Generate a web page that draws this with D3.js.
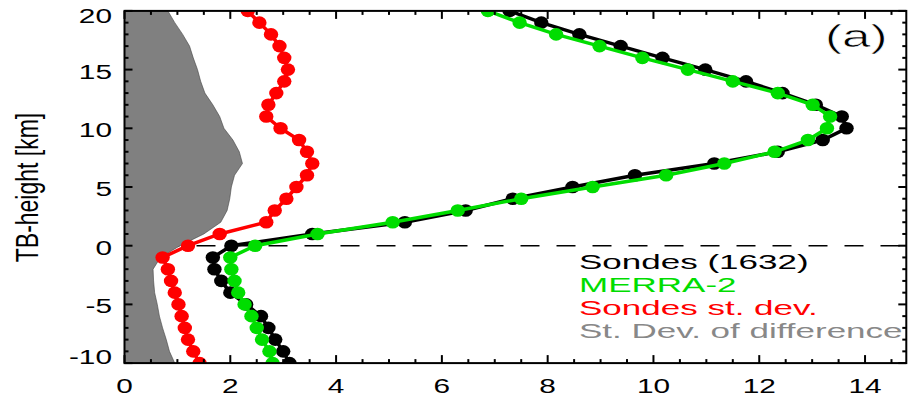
<!DOCTYPE html>
<html>
<head>
<meta charset="utf-8">
<script src="https://cdn.jsdelivr.net/npm/d3@7"></script>
<style>
  body { margin: 0; background: #fff; }
  text { font-family: "Liberation Sans", Arial, Helvetica, sans-serif; }
</style>
</head>
<body>
<script>
// heights of the profile levels (km, relative to tropopause)
var heights = [-10, -9, -8, -7, -6, -5, -4, -3, -2, -1, 0, 1, 2, 3, 4, 5, 6, 7, 8, 9, 10,
               11, 12, 13, 14, 15, 16, 17, 18, 19, 20];

var sondes = [3.12, 3.00, 2.85, 2.72, 2.58, 2.30, 2.00, 1.83, 1.70, 1.67, 2.02,
              3.55, 5.30, 6.45, 7.34, 8.47, 9.65, 11.15, 12.35, 13.20, 13.65,
              13.56, 13.07, 12.44, 11.75, 10.98, 10.17, 9.38, 8.60, 7.88, 7.28];

var merra2 = [2.80, 2.74, 2.60, 2.50, 2.40, 2.27, 2.15, 2.08, 2.02, 2.00, 2.47,
              3.65, 5.07, 6.30, 7.50, 8.85, 10.24, 11.34, 12.29, 12.92, 13.28,
              13.34, 13.01, 12.35, 11.50, 10.65, 9.79, 8.98, 8.16, 7.47, 6.87];

var sondesSd = [1.42, 1.30, 1.20, 1.14, 1.08, 1.02, 0.95, 0.88, 0.82, 0.72, 1.20,
                1.80, 2.68, 2.84, 3.06, 3.25, 3.45, 3.55, 3.45, 3.30, 2.95,
                2.68, 2.72, 2.87, 3.02, 3.09, 3.02, 2.93, 2.77, 2.55, 2.33];

var diffSd = [0.95, 0.85, 0.79, 0.72, 0.66, 0.62, 0.57, 0.55, 0.54, 0.68, 1.05,
              1.50, 1.82, 1.94, 1.99, 2.02, 2.08, 2.23, 2.17, 2.05, 1.88,
              1.80, 1.67, 1.52, 1.44, 1.38, 1.30, 1.23, 1.10, 0.95, 0.82];

var xTicks = [0, 2, 4, 6, 8, 10, 12, 14];
var yTicks = [-10, -5, 0, 5, 10, 15, 20];
var legendLabels = ["Sondes (1632)", "MERRA-2", "Sondes st. dev.", "St. Dev. of difference"];
var legendColors = ["#000000", "#00dd00", "#ff0000", "#888888"];

var width = 911, height = 398;
var svg = d3.select("body").append("svg")
    .attr("width", width)
    .attr("height", height);

var x = d3.scaleLinear().domain([0, 14.78]).range([124.5, 906.3]);
var y = d3.scaleLinear().domain([-10, 20]).range([363.1, 10.9]);

svg.append("defs").append("clipPath").attr("id", "plot")
  .append("rect")
    .attr("x", x(0)).attr("y", y(20))
    .attr("width", x(14.78) - x(0)).attr("height", y(-10) - y(20));

var plot = svg.append("g").attr("clip-path", "url(#plot)");

// zero line
plot.append("line")
    .attr("x1", x(0)).attr("x2", x(14.78))
    .attr("y1", y(0)).attr("y2", y(0))
    .attr("stroke", "#000")
    .attr("stroke-width", 1.5)
    .attr("stroke-dasharray", "19,17");

// st. dev. of difference, shaded
var rows = heights.map(function(h, i) {
  return {h: h, s: sondes[i], m: merra2[i], sd: sondesSd[i], dd: diffSd[i]};
});

plot.append("path")
    .datum(rows)
    .attr("fill", "#808080")
    .attr("stroke", "#444")
    .attr("stroke-width", 0.6)
    .attr("d", d3.area()
        .y(function(d) { return y(d.h); })
        .x0(x(0))
        .x1(function(d) { return x(d.dd); }));

function profile(key, color) {
  plot.append("path")
      .datum(rows)
      .attr("fill", "none")
      .attr("stroke", color)
      .attr("stroke-width", 3.5)
      .attr("d", d3.line()
          .x(function(d) { return x(d[key]); })
          .y(function(d) { return y(d.h); }));
  plot.selectAll(".pt-" + key)
      .data(rows)
      .enter()
      .append("ellipse")
      .attr("cx", function(d) { return x(d[key]); })
      .attr("cy", function(d) { return y(d.h); })
      .attr("rx", 7.2)
      .attr("ry", 6.3)
      .attr("fill", color);
}

profile("sd", "#ff0000");
profile("s", "#000000");
profile("m", "#00dd00");

// legend, text only
svg.selectAll(".legend")
    .data(legendLabels)
    .enter()
    .append("text")
    .attr("transform", function(d, i) { return "translate(579," + (268.5 + i * 23.3) + ") scale(1.75,1)"; })
    .attr("font-size", "20px")
    .attr("fill", function(d, i) { return legendColors[i]; })
    .text(function(d) { return d; });

// panel letter, slightly thinned with a white outline
svg.append("text")
    .attr("transform", "translate(825,47) scale(1.6,1)")
    .attr("font-size", "32px")
    .attr("fill", "#000")
    .attr("stroke", "#fff")
    .attr("stroke-width", 0.6)
    .text("(a)");

// frame
svg.append("rect")
    .attr("x", x(0)).attr("y", y(20))
    .attr("width", x(14.78) - x(0)).attr("height", y(-10) - y(20))
    .attr("fill", "none")
    .attr("stroke", "#000")
    .attr("stroke-width", 2);

// inward ticks
var xMinor = d3.range(0, 14.78, 0.5);
var yMinor = d3.range(-10, 20.1, 1);
var ticks = svg.append("g").attr("stroke", "#000").attr("stroke-width", 2);

xMinor.forEach(function(v) {
  var len = (v % 2 === 0) ? 8 : 4;
  ticks.append("line").attr("x1", x(v)).attr("x2", x(v)).attr("y1", y(-10)).attr("y2", y(-10) - len);
  ticks.append("line").attr("x1", x(v)).attr("x2", x(v)).attr("y1", y(20)).attr("y2", y(20) + len);
});
yMinor.forEach(function(v) {
  var len = (v % 5 === 0) ? 8 : 4;
  ticks.append("line").attr("y1", y(v)).attr("y2", y(v)).attr("x1", x(0)).attr("x2", x(0) + len);
  ticks.append("line").attr("y1", y(v)).attr("y2", y(v)).attr("x1", x(14.78)).attr("x2", x(14.78) - len);
});

// tick labels
svg.selectAll(".xl")
    .data(xTicks)
    .enter()
    .append("text")
    .attr("transform", function(d) { return "translate(" + x(d) + ",393) scale(1.42,1)"; })
    .attr("text-anchor", "middle")
    .attr("font-size", "21px")
    .text(function(d) { return d; });

svg.selectAll(".yl")
    .data(yTicks)
    .enter()
    .append("text")
    .attr("transform", function(d) {
      var yy = Math.max(15.5, Math.min(356.5, y(d) + 1.5));
      return "translate(112," + yy + ") scale(1.42,1)";
    })
    .attr("text-anchor", "end")
    .attr("dy", "0.36em")
    .attr("font-size", "21px")
    .text(function(d) { return d; });

svg.append("text")
    .attr("transform", "translate(38,187.5) scale(1.4,1) rotate(-90)")
    .attr("text-anchor", "middle")
    .attr("font-size", "23px")
    .text("TB-height [km]");
</script>
</body>
</html>
